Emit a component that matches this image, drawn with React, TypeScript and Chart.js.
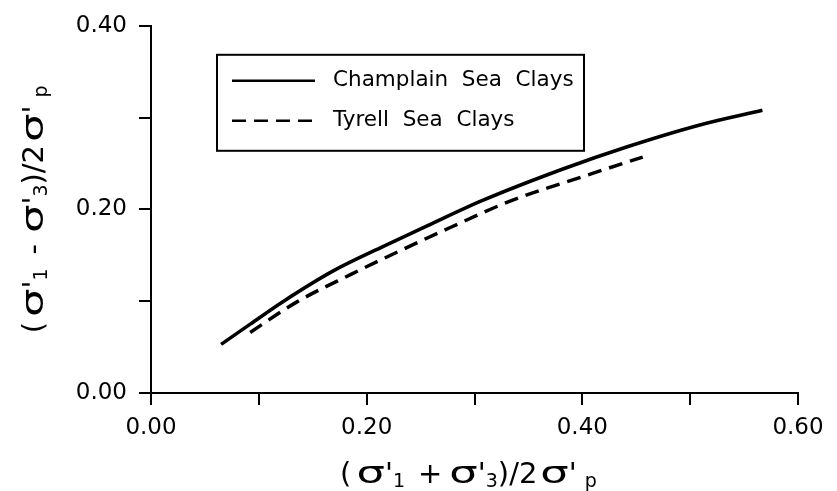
import React, { useEffect, useRef } from "react";
import { Chart, registerables } from "chart.js";

Chart.register(...registerables);

// ---- data ----
const champlainX = [0.065, 0.092, 0.123, 0.169, 0.216, 0.256, 0.308, 0.382, 0.441, 0.509, 0.567];
const champlainY = [0.053, 0.075, 0.1, 0.133, 0.16, 0.182, 0.21, 0.244, 0.268, 0.292, 0.308];
const tyrellX = [0.092, 0.135, 0.185, 0.231, 0.277, 0.333, 0.401, 0.456];
const tyrellY = [0.066, 0.099, 0.129, 0.155, 0.18, 0.209, 0.236, 0.257];
const seriesLabels = ["Champlain  Sea  Clays", "Tyrell  Sea  Clays"];
const xTickLabels = ["0.00", "", "0.20", "", "0.40", "", "0.60"];
const yTickLabels = ["0.00", "", "0.20", "", "0.40"];

// axis titles as rich text: k = n (normal), s (sigma), b (subscript); g = extra gap after
type Seg = { t: string; k: "n" | "s" | "b"; g?: number };
const xTitle: Seg[] = [
  { t: "(", k: "n", g: 5 }, { t: "σ", k: "s" }, { t: "'", k: "n" }, { t: "1", k: "b", g: 13 },
  { t: "+", k: "n", g: 7 }, { t: "σ", k: "s" }, { t: "'", k: "n" }, { t: "3", k: "b" },
  { t: ")/2", k: "n", g: 3 }, { t: "σ", k: "s" }, { t: "'", k: "n", g: 8 }, { t: "p", k: "b" },
];
const yTitle: Seg[] = [
  { t: "(", k: "n", g: 5 }, { t: "σ", k: "s" }, { t: "'", k: "n" }, { t: "1", k: "b", g: 14 },
  { t: "-", k: "n", g: 11 }, { t: "σ", k: "s" }, { t: "'", k: "n" }, { t: "3", k: "b" },
  { t: ")/2", k: "n", g: 3 }, { t: "σ", k: "s" }, { t: "'", k: "n", g: 8 }, { t: "p", k: "b" },
];

const FONT = "'DejaVu Sans', sans-serif";
const segStyle = {
  n: { size: 29, sx: 1, dy: 0 },
  s: { size: 31, sx: 1.45, dy: 0 },
  b: { size: 19, sx: 1, dy: 4 },
};

function drawRich(ctx: CanvasRenderingContext2D, segs: Seg[], cx: number, baseY: number) {
  let total = 0;
  const widths = segs.map((s) => {
    const st = segStyle[s.k];
    ctx.font = `${st.size}px ${FONT}`;
    const w = ctx.measureText(s.t).width * st.sx;
    total += w + (s.g || 0);
    return w;
  });
  let x = cx - total / 2;
  segs.forEach((s, i) => {
    const st = segStyle[s.k];
    ctx.font = `${st.size}px ${FONT}`;
    ctx.save();
    ctx.translate(x, baseY + st.dy);
    ctx.scale(st.sx, 1);
    ctx.fillText(s.t, 0, 0);
    ctx.restore();
    x += widths[i] + (s.g || 0);
  });
}

const titlePlugin = {
  id: "richTitles",
  afterDraw(chart: any) {
    const { ctx, chartArea } = chart;
    ctx.save();
    ctx.fillStyle = "#000";
    ctx.textBaseline = "alphabetic";
    ctx.textAlign = "left";
    drawRich(ctx, xTitle, (chartArea.left + chartArea.right) / 2 - 6, chartArea.bottom + 90);
    ctx.translate(chartArea.left - 108, (chartArea.top + chartArea.bottom) / 2);
    ctx.rotate(-Math.PI / 2);
    drawRich(ctx, yTitle, 0, 0);
    ctx.restore();
  },
};

const legendPlugin = {
  id: "boxLegend",
  afterDraw(chart: any) {
    const { ctx, chartArea } = chart;
    const left = chartArea.left + 66;
    const top = chartArea.top + 29;
    const w = 367;
    const h = 96;
    ctx.save();
    ctx.strokeStyle = "#000";
    ctx.lineWidth = 2;
    ctx.strokeRect(left, top, w, h);
    chart.data.datasets.forEach((ds: any, i: number) => {
      const y = top + 26 + i * 40;
      ctx.beginPath();
      ctx.setLineDash(ds.borderDash || []);
      ctx.lineWidth = 2.5;
      ctx.moveTo(left + 15, y);
      ctx.lineTo(left + 98, y);
      ctx.stroke();
      ctx.setLineDash([]);
      ctx.fillStyle = "#000";
      ctx.font = `21.5px ${FONT}`;
      ctx.textBaseline = "middle";
      ctx.textAlign = "left";
      ctx.fillText(ds.label, left + 116, y);
    });
    ctx.restore();
  },
};

export default function App() {
  const ref = useRef<HTMLCanvasElement | null>(null);
  useEffect(() => {
    document.body.style.margin = "0";
    const canvas = ref.current!;
    const tickFont = { family: FONT, size: 23 };
    const chart = new Chart(canvas, {
      type: "line",
      data: {
        datasets: [
          {
            label: seriesLabels[0],
            data: champlainX.map((x, i) => ({ x, y: champlainY[i] })),
            borderColor: "#000",
            borderWidth: 3.5,
            pointRadius: 0,
            tension: 0.4,
            cubicInterpolationMode: "monotone",
            fill: false,
          },
          {
            label: seriesLabels[1],
            data: tyrellX.map((x, i) => ({ x, y: tyrellY[i] })),
            borderColor: "#000",
            borderWidth: 3.5,
            borderDash: [14, 8],
            pointRadius: 0,
            tension: 0.4,
            cubicInterpolationMode: "monotone",
            fill: false,
          },
        ],
      },
      options: {
        responsive: false,
        animation: false,
        layout: { padding: { top: 18, right: 39, left: 0, bottom: 0 } },
        plugins: { legend: { display: false }, tooltip: { enabled: false }, title: { display: false } },
        scales: {
          x: {
            type: "linear",
            min: 0,
            max: 0.6,
            ticks: {
              stepSize: 0.1,
              autoSkip: false,
              maxRotation: 0,
              color: "#000",
              font: tickFont,
              padding: 9,
              callback: (_v: any, i: number) => xTickLabels[i] ?? "",
            },
            grid: { drawOnChartArea: false, drawTicks: true, tickLength: 12, color: "#000", lineWidth: 2 },
            border: { display: true, color: "#000", width: 2 },
            afterFit: (s: any) => { s.height = 98; },
          },
          y: {
            type: "linear",
            min: 0,
            max: 0.4,
            ticks: {
              stepSize: 0.1,
              autoSkip: false,
              color: "#000",
              font: tickFont,
              padding: 12,
              callback: (_v: any, i: number) => yTickLabels[i] ?? "",
            },
            grid: { drawOnChartArea: false, drawTicks: true, tickLength: 12, color: "#000", lineWidth: 2 },
            border: { display: true, color: "#000", width: 2 },
            afterFit: (s: any) => { s.width = 151; },
          },
        },
      } as any,
      plugins: [titlePlugin, legendPlugin],
    });
    return () => chart.destroy();
  }, []);
  return <canvas ref={ref} width={837} height={491} style={{ display: "block" }} />;
}
